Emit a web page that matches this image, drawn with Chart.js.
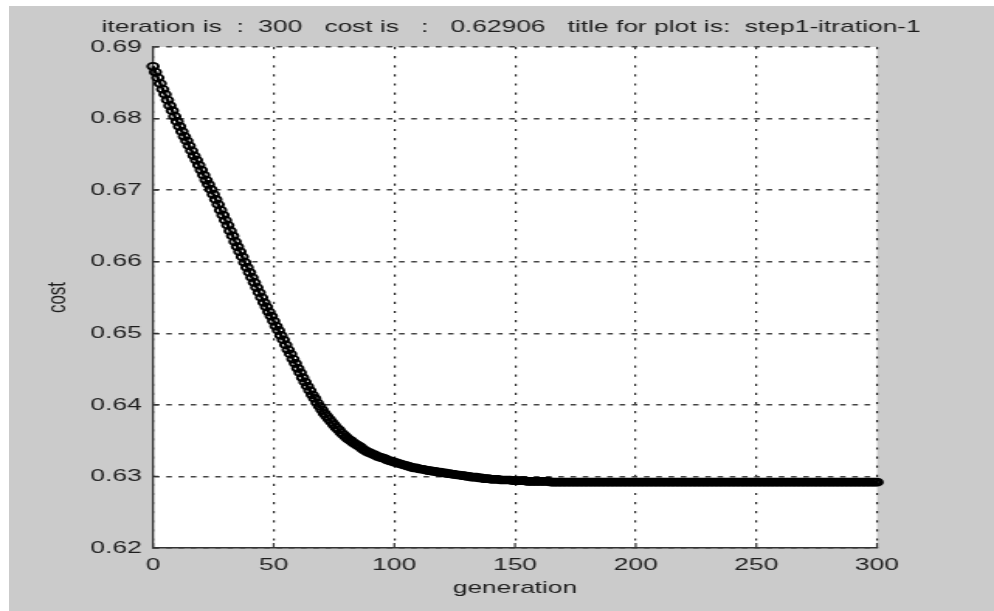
<!DOCTYPE html>
<html>
<head>
<meta charset="utf-8">
<script src="https://cdn.jsdelivr.net/npm/chart.js@4"></script>
<style>
  html, body { margin: 0; padding: 0; background: #fff; }
  body { width: 994px; height: 611px; position: relative; overflow: hidden; }
  .bg { position: absolute; left: 9px; top: 6px; right: 0; bottom: 0; background: #cbcbcb; }
  /* the source picture is stretched sideways, so the chart is drawn narrow and widened */
  .wrap { position: absolute; left: 0; top: 0; width: 641px; height: 611px;
          transform: scaleX(1.5507); transform-origin: 0 0; filter: blur(0.5px); }
</style>
</head>
<body>
<div class="bg"></div>
<div class="wrap"><canvas id="costChart"></canvas></div>
<script>
const titleText = 'iteration is  :  300   cost is   :   0.62906   title for plot is:  step1-itration-1'
const xTicks = [0, 50, 100, 150, 200, 250, 300]
const xTickLabels = ['0', '50', '100', '150', '200', '250', '300']
const yTicks = [0.62, 0.63, 0.64, 0.65, 0.66, 0.67, 0.68, 0.69]
const yTickLabels = ['0.62', '0.63', '0.64', '0.65', '0.66', '0.67', '0.68', '0.69']

// cost per generation 0..300
const cost = [
  0.6873, 0.6865, 0.6857, 0.6849, 0.6841, 0.6834, 0.6826, 0.6818, 0.6811, 0.6803,
  0.6796, 0.6789, 0.6782, 0.6775, 0.6769, 0.6762, 0.6755, 0.6748, 0.6742, 0.6735,
  0.6728, 0.6721, 0.6714, 0.6708, 0.6701, 0.6694, 0.6687, 0.6680, 0.6672, 0.6665,
  0.6658, 0.6651, 0.6643, 0.6636, 0.6628, 0.6621, 0.6614, 0.6607, 0.6599, 0.6592,
  0.6585, 0.6578, 0.6571, 0.6564, 0.6557, 0.6550, 0.6543, 0.6537, 0.6530, 0.6524,
  0.6517, 0.6510, 0.6504, 0.6497, 0.6491, 0.6484, 0.6477, 0.6471, 0.6464, 0.6458,
  0.6451, 0.6445, 0.6438, 0.6432, 0.6426, 0.6420, 0.6414, 0.6409, 0.6403, 0.6398,
  0.6393, 0.6388, 0.6384, 0.6380, 0.6376, 0.6372, 0.6368, 0.6365, 0.6361, 0.6358,
  0.6355, 0.6352, 0.6350, 0.6347, 0.6345, 0.6343, 0.6341, 0.6338, 0.6336, 0.6334,
  0.6333, 0.6331, 0.6330, 0.6328, 0.6327, 0.6326, 0.6325, 0.6323, 0.6322, 0.6321,
  0.6320, 0.6319, 0.6318, 0.6317, 0.6316, 0.6315, 0.6314, 0.6313, 0.6312, 0.6312,
  0.6311, 0.6310, 0.6310, 0.6309, 0.6308, 0.6308, 0.6307, 0.6307, 0.6306, 0.6306,
  0.6305, 0.6305, 0.6304, 0.6304, 0.6303, 0.6303, 0.6302, 0.6302, 0.6301, 0.6301,
  0.6300, 0.6300, 0.6299, 0.6299, 0.6299, 0.6298, 0.6298, 0.6297, 0.6297, 0.6297,
  0.6296, 0.6296, 0.6296, 0.6296, 0.6295, 0.6295, 0.6295, 0.6295, 0.6295, 0.6294,
  0.6294, 0.6294, 0.6294, 0.6294, 0.6294, 0.6293, 0.6293, 0.6293, 0.6293, 0.6293,
  0.6293, 0.6293, 0.6293, 0.6293, 0.6293, 0.6292, 0.6292, 0.6292, 0.6292, 0.6292,
  0.6292, 0.6292, 0.6292, 0.6292, 0.6292, 0.6292, 0.6292, 0.6292, 0.6292, 0.6292,
  0.6292, 0.6292, 0.6292, 0.6292, 0.6292, 0.6292, 0.6292, 0.6292, 0.6292, 0.6292,
  0.6292, 0.6292, 0.6292, 0.6292, 0.6292, 0.6292, 0.6292, 0.6292, 0.6292, 0.6292,
  0.6292, 0.6292, 0.6292, 0.6292, 0.6292, 0.6292, 0.6292, 0.6292, 0.6292, 0.6292,
  0.6292, 0.6292, 0.6292, 0.6292, 0.6292, 0.6292, 0.6292, 0.6292, 0.6292, 0.6292,
  0.6292, 0.6292, 0.6292, 0.6292, 0.6292, 0.6292, 0.6292, 0.6292, 0.6292, 0.6292,
  0.6292, 0.6292, 0.6292, 0.6292, 0.6292, 0.6292, 0.6292, 0.6292, 0.6292, 0.6292,
  0.6292, 0.6292, 0.6292, 0.6292, 0.6292, 0.6292, 0.6292, 0.6292, 0.6292, 0.6292,
  0.6292, 0.6292, 0.6292, 0.6292, 0.6292, 0.6292, 0.6292, 0.6292, 0.6292, 0.6292,
  0.6292, 0.6292, 0.6292, 0.6292, 0.6292, 0.6292, 0.6292, 0.6292, 0.6292, 0.6292,
  0.6292, 0.6292, 0.6292, 0.6292, 0.6292, 0.6292, 0.6292, 0.6292, 0.6292, 0.6292,
  0.6292, 0.6292, 0.6292, 0.6292, 0.6292, 0.6292, 0.6292, 0.6292, 0.6292, 0.6292,
  0.6292, 0.6292, 0.6292, 0.6292, 0.6292, 0.6292, 0.6292, 0.6292, 0.6292, 0.6292,
  0.6292
]

const textColor = '#1e1e1e'
const font = { family: '"Liberation Sans", Arial, sans-serif', size: 17 }

const plotBack = {
  id: 'plotBack',
  beforeDraw(chart) {
    const { ctx, chartArea: a } = chart
    ctx.save()
    ctx.fillStyle = '#fff'
    ctx.fillRect(a.left, a.top, a.right - a.left, a.bottom - a.top)
    ctx.restore()
  },
  beforeDatasetsDraw(chart) {
    // short inward tick marks on the left and bottom axes
    const { ctx, chartArea: a, scales } = chart
    ctx.save()
    ctx.strokeStyle = '#333'
    ctx.lineWidth = 1.2
    ctx.beginPath()
    xTicks.forEach(v => {
      const px = scales.x.getPixelForValue(v)
      ctx.moveTo(px, a.bottom)
      ctx.lineTo(px, a.bottom - 5)
    })
    yTicks.forEach(v => {
      const py = scales.y.getPixelForValue(v)
      ctx.moveTo(a.left, py)
      ctx.lineTo(a.left + 3.5, py)
    })
    ctx.stroke()
    ctx.restore()
  },
  afterDraw(chart) {
    const { ctx, chartArea: a } = chart
    ctx.save()
    ctx.fillStyle = textColor
    ctx.font = '17px ' + font.family
    ctx.textAlign = 'center'
    ctx.textBaseline = 'middle'
    ctx.fillText(titleText, (a.left + a.right) / 2 - 2.5, 27.5)
    ctx.restore()
  }
}

new Chart(document.getElementById('costChart'), {
  type: 'line',
  data: {
    datasets: [{
      data: cost.map((c, i) => ({ x: i, y: c })),
      borderColor: '#000',
      borderWidth: 2.5,
      pointRadius: 3.4,
      pointBorderWidth: 1.9,
      pointBorderColor: '#000',
      pointBackgroundColor: 'rgba(0,0,0,0)',
      fill: false,
      tension: 0,
      clip: false
    }]
  },
  options: {
    responsive: true,
    maintainAspectRatio: false,
    animation: false,
    events: [],
    layout: { padding: { left: 0, top: 47, right: 75.45, bottom: 0 } },
    plugins: {
      legend: { display: false },
      title: { display: false },
      tooltip: { enabled: false }
    },
    scales: {
      x: {
        type: 'linear',
        min: 0,
        max: 300,
        afterFit: s => { s.height = 63 },
        afterBuildTicks: s => { s.ticks = xTicks.map(v => ({ value: v })) },
        ticks: {
          color: textColor, font, padding: 7, maxRotation: 0, autoSkip: false,
          callback: (v, i) => xTickLabels[i]
        },
        grid: { color: '#222', lineWidth: 1.2, drawTicks: false },
        border: { display: true, color: '#333', width: 1.5, dash: [2.2, 6.9] },
        title: {
          display: true, text: 'generation', color: textColor, font,
          padding: { top: 0, bottom: 12.8 }
        }
      },
      y: {
        min: 0.62,
        max: 0.69,
        afterFit: s => { s.width = 98.66 },
        afterBuildTicks: s => { s.ticks = yTicks.map(v => ({ value: v })) },
        ticks: {
          color: textColor, font, padding: 7.3, autoSkip: false,
          callback: (v, i) => yTickLabels[i]
        },
        grid: { color: '#444', lineWidth: 1.4, drawTicks: false },
        border: { display: true, color: '#333', width: 1.3, dash: [3.6, 4.3] },
        title: {
          display: true, text: 'cost', color: textColor, font,
          padding: { top: 27.2, bottom: 0 }
        }
      }
    }
  },
  plugins: [plotBack]
})
</script>
</body>
</html>
